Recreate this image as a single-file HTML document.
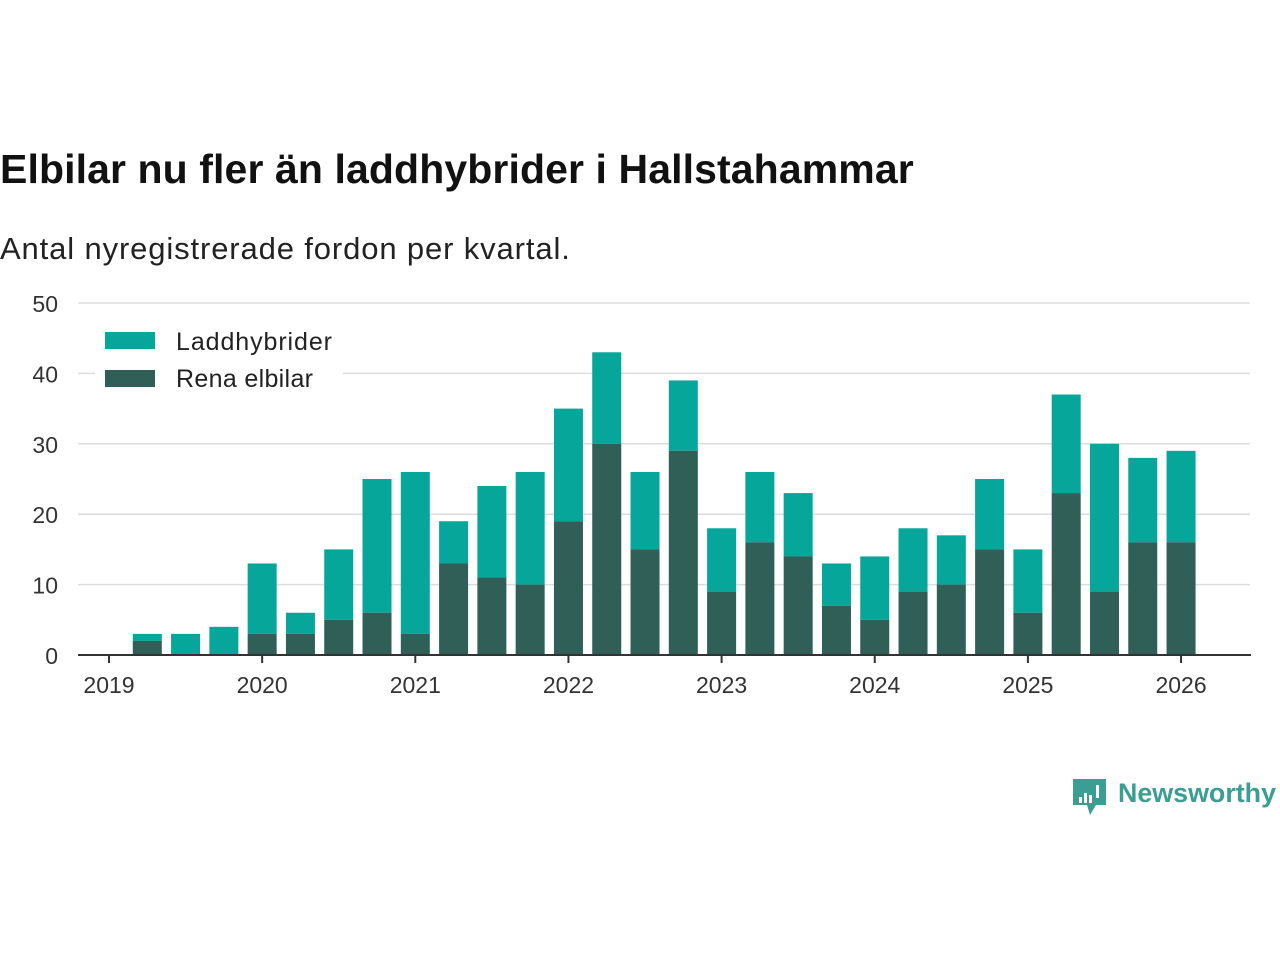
<!DOCTYPE html>
<html><head><meta charset="utf-8">
<style>
body{margin:0;width:1280px;height:960px;background:#fff;overflow:hidden;font-family:"Liberation Sans",sans-serif;}
#title{position:absolute;left:0;top:146px;font-size:41px;font-weight:bold;color:#111;letter-spacing:0.1px}
#sub{position:absolute;left:0;top:231px;font-size:31px;color:#222;letter-spacing:0.87px}
svg{position:absolute;left:0;top:0}
</style></head><body>
<div id="title">Elbilar nu fler än laddhybrider i Hallstahammar</div>
<div id="sub">Antal nyregistrerade fordon per kvartal.</div>
<svg id="chart" width="1280" height="960"></svg>
<script>
const totals=[3,3,4,13,6,15,25,26,19,24,26,35,43,26,39,18,26,23,13,14,18,17,25,15,37,30,28,29];
const elbil=[2,0,0,3,3,5,6,3,13,11,10,19,30,15,29,9,16,14,7,5,9,10,15,6,23,9,16,16];
const yTicks=[0,10,20,30,40,50];
const xYears=[2019,2020,2021,2022,2023,2024,2025,2026];
const svg=document.getElementById('chart');
const NS='http://www.w3.org/2000/svg';
const y=v=>655-v*7.04;
const x=t=>109+(t-2019)*153.15;
function mk(tag,attrs){const e=document.createElementNS(NS,tag);for(const k in attrs)e.setAttribute(k,attrs[k]);svg.appendChild(e);return e;}
yTicks.forEach(v=>{
 if(v>0){const l=mk('line',{x1:78,x2:1250,y1:y(v),y2:y(v),stroke:'#ddd','stroke-width':1.5});
 
 }
 const t=mk('text',{x:58,y:y(v)+9,'text-anchor':'end','font-size':23,fill:'#333'});t.textContent=v;
 
 
});
totals.forEach((tot,i)=>{
 const t=2019.25+i*0.25, cx=x(t), w=29;
 const b1=mk('rect',{x:cx-w/2,y:y(tot),width:w,height:y(elbil[i])-y(tot),fill:'#06a69b'});
 
 
 const b2=mk('rect',{x:cx-w/2,y:y(elbil[i]),width:w,height:655-y(elbil[i]),fill:'#2f5f57'});
 
 
});
const ax=mk('line',{x1:78,x2:1251,y1:655,y2:655,stroke:'#333','stroke-width':2});


xYears.forEach(yr=>{
 const tk=mk('line',{x1:x(yr),x2:x(yr),y1:655,y2:663,stroke:'#333','stroke-width':2});
 
 
 const t=mk('text',{x:x(yr),y:693,'text-anchor':'middle','font-size':23,fill:'#333'});t.textContent=yr;
 
 
});
const lb=mk('rect',{x:95,y:322,width:248,height:76,fill:'#fff'});


[['Laddhybrider','#06a69b',332,350,156],['Rena elbilar','#2f5f57',370,387,137]].forEach(([n,c,ry,ty,tl])=>{
 const r=mk('rect',{x:105,y:ry,width:50,height:17,fill:c});
 
 
 const t=mk('text',{x:176,y:ty,'font-size':25,fill:'#222',textLength:tl});t.textContent=n;
 
 
});
const g=mk('path',{d:'M1073 779 h33 v26 h-10 l-6 10 l-3 -10 h-14 z',fill:'#3a9e92'});


[[1079,797,3,6],[1084,793,3,10],[1089,795,3,8],[1096,785,3,13]].forEach(a=>{const r=mk('rect',{x:a[0],y:a[1],width:a[2],height:a[3],fill:'#fff'});
 
 });
const lt=mk('text',{x:1118,y:802,'font-size':27,fill:'#3a9e92','font-weight':'bold',textLength:158,lengthAdjust:'spacingAndGlyphs'});lt.textContent='Newsworthy';


</script>
</body></html>
